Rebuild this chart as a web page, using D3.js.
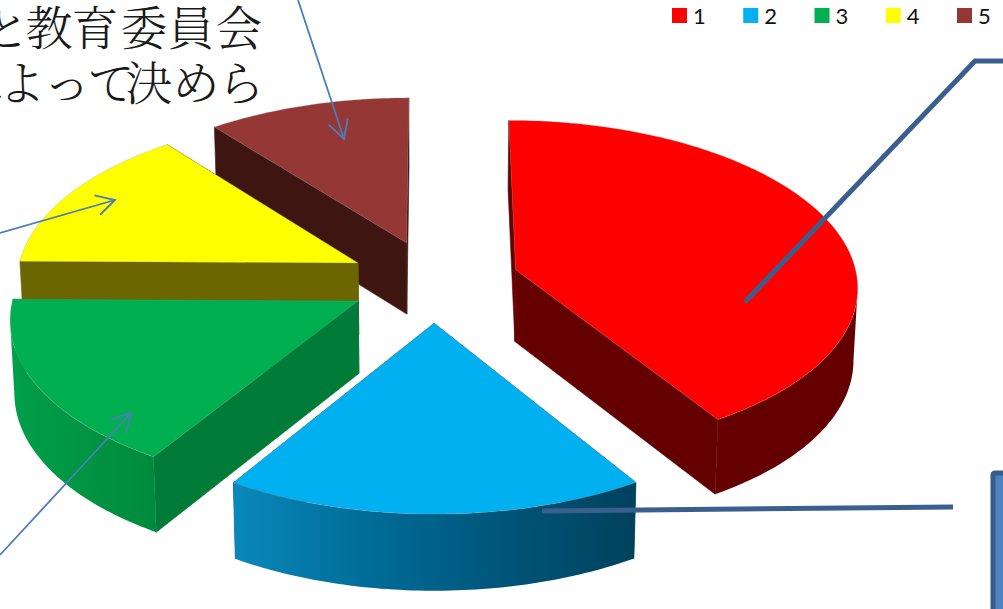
<!DOCTYPE html>
<html lang="ja">
<head>
<meta charset="utf-8">
<script src="https://cdn.jsdelivr.net/npm/d3@7/dist/d3.min.js"></script>
<style>
  html, body { margin: 0; padding: 0; background: #fff; overflow: hidden; }
  svg { display: block; }
</style>
</head>
<body>
<svg id="chart" width="1003" height="609"></svg>
<script>
// Slice shares in percent, clockwise from twelve o'clock
const categories = ["1", "2", "3", "4", "5"];
const shares = [41.1, 17.75, 16.33, 14.17, 10.65];
const topColors = ["#ff0000", "#00b0f0", "#00b050", "#ffff00", "#953735"];
const wallColors = ["#640000", "#005a7c", "#007b38", "#6b6600", "#3f1512"];
const rimStops = [
  ["#640000", "#640000"],
  ["#0a88ba", "#006c98", "#00557a", "#00425c"],
  ["#009f4a", "#008a3c"],
  ["#6b6600", "#6b6600"],
  ["#3f1512", "#3f1512"]
];
const captionLines = [
  { text: "と教育委員会", centers: [6, 49, 95, 144, 191, 239], baseline: 45 },
  { text: "によって決めら", centers: [-18, 22, 67, 111, 149, 196, 241], baseline: 100 }
];

// Camera settings of the tilted pie
const view = { cx: 434, cy: 281, rx: 342, ry: 165, persp: 0.092, explode: 0.25, depth: 72, floorScale: 0.99 };

const svg = d3.select("#chart");
const defs = svg.append("defs");

// Ground-plane coordinates onto the screen; z = 1 is the underside of a slice
function project(X, Y, z) {
  const f = 1 / (1 + view.persp * Y);
  const shrink = z ? view.floorScale : 1;
  return [
    view.cx + X * view.rx * f * shrink,
    view.cy - Y * view.ry * f + (z ? view.depth * (1 + f) / 2 : 0)
  ];
}

const line = d3.line();
const arcs = d3.pie().sort(null).value(d => d)(shares);

function arcPoints(a, z) {
  const mid = (a.startAngle + a.endAngle) / 2;
  const ox = Math.sin(mid) * view.explode, oy = Math.cos(mid) * view.explode;
  const n = Math.max(12, Math.ceil((a.endAngle - a.startAngle) * 60));
  return d3.range(n + 1).map(i => {
    const t = a.startAngle + (a.endAngle - a.startAngle) * i / n;
    return project(ox + Math.sin(t), oy + Math.cos(t), z);
  });
}

function apex(a, z) {
  const mid = (a.startAngle + a.endAngle) / 2;
  return project(Math.sin(mid) * view.explode, Math.cos(mid) * view.explode, z);
}

const pieGroup = svg.append("g");
// Painted from the back of the scene to the front
const paintOrder = [4, 3, 0, 2, 1];

paintOrder.forEach(i => {
  const a = arcs[i];
  const upper = arcPoints(a, 0), lower = arcPoints(a, 1);
  const top = apex(a, 0), bottom = apex(a, 1);
  const g = pieGroup.append("g");

  const gradId = "rim" + i;
  const grad = defs.append("linearGradient").attr("id", gradId);
  rimStops[i].forEach((c, k, all) => {
    grad.append("stop").attr("offset", k / (all.length - 1)).attr("stop-color", c);
  });

  // Radial walls
  [[upper[0], lower[0]], [upper[upper.length - 1], lower[lower.length - 1]]].forEach(([u, l]) => {
    g.append("path")
      .attr("d", line([top, u, l, bottom]) + "Z")
      .attr("fill", wallColors[i])
      .attr("stroke", wallColors[i])
      .attr("stroke-width", 0.6);
  });
  // Curved outer wall: only the stretch of rim that faces the viewer, where x falls clockwise
  const facing = d3.range(upper.length).filter(k =>
    (k < upper.length - 1 && upper[k + 1][0] <= upper[k][0]) ||
    (k > 0 && upper[k][0] <= upper[k - 1][0]));
  if (facing.length > 1) {
    const rimTop = facing.map(k => upper[k]);
    const rimBottom = facing.map(k => lower[k]).reverse();
    g.append("path")
      .attr("d", line(rimTop.concat(rimBottom)) + "Z")
      .attr("fill", `url(#${gradId})`);
  }
  // Top face
  g.append("path")
    .attr("d", line([top].concat(upper)) + "Z")
    .attr("fill", topColors[i])
    .attr("stroke", "#9a9a9a")
    .attr("stroke-opacity", 0.35)
    .attr("stroke-width", 0.8)
    .attr("stroke-linejoin", "round");
});

// Legend
const legend = svg.append("g");
const legendX = d3.scaleLinear().domain([0, 4]).range([672, 957]);
categories.forEach((c, i) => {
  legend.append("rect")
    .attr("x", legendX(i)).attr("y", 8).attr("width", 15).attr("height", 15)
    .attr("fill", topColors[i]);
  legend.append("text")
    .attr("x", legendX(i) + 21).attr("y", 23.5)
    .attr("font-family", "Lato, 'Open Sans', sans-serif")
    .attr("font-size", 22)
    .attr("fill", "#111")
    .text(c);
});

// Caption text running off the top-left corner
captionLines.forEach(l => {
  svg.append("text")
    .attr("x", l.centers.map(x => x - 23.5).join(" "))
    .attr("y", l.baseline)
    .attr("font-family", "'Noto Serif CJK JP', 'Noto Sans CJK JP', serif")
    .attr("font-weight", 300)
    .attr("font-size", 47)
    .attr("fill", "#1a1a1a")
    .text(l.text);
});

// Thin callout arrows with open heads
const arrows = [
  [[298, 0], [344, 139]],
  [[0, 233], [115, 200]],
  [[0, 555], [131, 413]]
];
arrows.forEach(([from, to]) => {
  const ang = Math.atan2(to[1] - from[1], to[0] - from[0]);
  const head = s => [to[0] - 21 * Math.cos(ang + s), to[1] - 21 * Math.sin(ang + s)];
  svg.append("path")
    .attr("d", line([from, to]) + line([head(0.5), to, head(-0.5)]))
    .attr("fill", "none")
    .attr("stroke", "#4a7ebb")
    .attr("stroke-width", 1.8);
});

// Heavy leader lines
const leaders = [
  [[745, 302], [975, 61], [1003, 61]],
  [[542, 511], [953, 507]]
];
leaders.forEach(pts => {
  svg.append("path")
    .attr("d", line(pts))
    .attr("fill", "none")
    .attr("stroke", "#3a5f8f")
    .attr("stroke-width", 5);
});

// Callout box cut by the right edge
svg.append("rect")
  .attr("x", 993).attr("y", 473).attr("width", 40).attr("height", 170)
  .attr("rx", 2)
  .attr("fill", "#4f81bd")
  .attr("stroke", "#385d8a")
  .attr("stroke-width", 5);
</script>
</body>
</html>
